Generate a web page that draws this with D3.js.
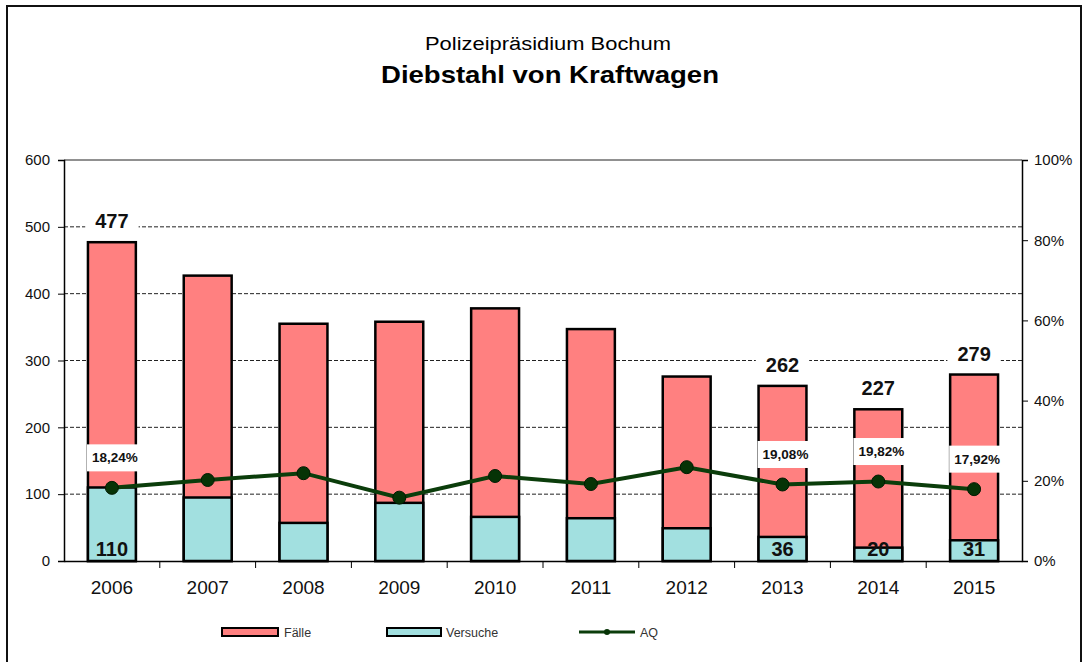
<!DOCTYPE html>
<html>
<head>
<meta charset="utf-8">
<script src="https://cdn.jsdelivr.net/npm/d3@7"></script>
<style>
  body { margin: 0; background: #fff; }
  svg { display: block; font-family: "Liberation Sans", Arial, sans-serif; }
</style>
</head>
<body>
<svg id="chart" width="1086" height="662"></svg>
<script>
// data
const years    = ["2006", "2007", "2008", "2009", "2010", "2011", "2012", "2013", "2014", "2015"];
const faelle   = [477, 427, 355, 358, 378, 347, 276, 262, 227, 279];
const versuche = [110, 95, 57, 87, 66, 64, 49, 36, 20, 31];
const aq       = [18.24, 20.2, 21.9, 15.8, 21.2, 19.2, 23.4, 19.08, 19.82, 17.92];
const labelled = ["2006", "2013", "2014", "2015"];
const leftTicks  = [0, 100, 200, 300, 400, 500, 600];
const rightTicks = [0, 20, 40, 60, 80, 100];

let svg = d3.select("#chart");
let margin = { left: 64, right: 1022, top: 160, bottom: 561 };

// outer frame
svg.append("rect")
    .attr("x", 7).attr("y", 6)
    .attr("width", 1074).attr("height", 670)
    .attr("fill", "none").attr("stroke", "#111").attr("stroke-width", 2);

// titles
svg.append("text")
    .attr("x", 548).attr("y", 50)
    .attr("text-anchor", "middle")
    .attr("font-size", 18)
    .attr("textLength", 246).attr("lengthAdjust", "spacingAndGlyphs")
    .text("Polizeipräsidium  Bochum");
svg.append("text")
    .attr("x", 550).attr("y", 83)
    .attr("text-anchor", "middle")
    .attr("font-size", 24).attr("font-weight", "bold")
    .attr("textLength", 338).attr("lengthAdjust", "spacingAndGlyphs")
    .text("Diebstahl von Kraftwagen");

let x = d3.scaleBand().domain(years).range([margin.left, margin.right]).paddingInner(0.5).paddingOuter(0.25);
let xStep = d3.scaleBand().domain(years).range([margin.left, margin.right]);
let y = d3.scaleLinear().domain([0, 600]).range([margin.bottom, margin.top]);
let y2 = d3.scaleLinear().domain([0, 100]).range([margin.bottom, margin.top]);

// grid
svg.append("g").selectAll("line")
    .data(leftTicks.filter(d => d > 0 && d < 600))
    .enter().append("line")
        .attr("x1", margin.left).attr("x2", margin.right)
        .attr("y1", d => y(d)).attr("y2", d => y(d))
        .attr("stroke", "#222").attr("stroke-width", 1)
        .attr("stroke-dasharray", "4,2");
svg.append("line")
    .attr("x1", margin.left).attr("x2", margin.right)
    .attr("y1", y(600)).attr("y2", y(600))
    .attr("stroke", "#222");

// bars: Fälle full height, Versuche overlaid from 0
svg.append("g").selectAll("rect")
    .data(years)
    .enter().append("rect")
        .attr("x", d => x(d))
        .attr("width", x.bandwidth())
        .attr("y", (d, i) => y(faelle[i]))
        .attr("height", (d, i) => y(0) - y(faelle[i]))
        .attr("fill", "#ff8080").attr("stroke", "#000").attr("stroke-width", 2.5);
svg.append("g").selectAll("rect")
    .data(years)
    .enter().append("rect")
        .attr("x", d => x(d))
        .attr("width", x.bandwidth())
        .attr("y", (d, i) => y(versuche[i]))
        .attr("height", (d, i) => y(0) - y(versuche[i]))
        .attr("fill", "#a2e0e0").attr("stroke", "#000").attr("stroke-width", 2.5);

// axes
let yAxis = d3.axisLeft(y).tickValues(leftTicks).tickSize(6).tickPadding(8);
let gy = svg.append("g").attr("transform", "translate(" + margin.left + ",0)").call(yAxis);
let y2Axis = d3.axisRight(y2).tickValues(rightTicks).tickSize(6).tickPadding(6).tickFormat(d => d + "%");
let gy2 = svg.append("g").attr("transform", "translate(" + margin.right + ",0)").call(y2Axis);
[gy, gy2].forEach(g => {
    g.select(".domain").attr("stroke", "#000").attr("stroke-width", 1.5);
    g.selectAll(".tick line").attr("stroke", "#000");
    g.selectAll(".tick text").attr("font-size", 15).attr("fill", "#111")
        .attr("font-family", "Liberation Sans, Arial, sans-serif");
});

let xAxis = d3.axisBottom(xStep).tickSize(0).tickPadding(20);
let gx = svg.append("g").attr("transform", "translate(0," + margin.bottom + ")").call(xAxis);
gx.select(".domain").attr("stroke", "#000").attr("stroke-width", 1.5);
gx.selectAll(".tick text").attr("font-size", 19).attr("fill", "#111")
    .attr("font-family", "Liberation Sans, Arial, sans-serif");
// category separator ticks
svg.append("g").selectAll("line")
    .data(years.slice(1))
    .enter().append("line")
        .attr("x1", d => xStep(d)).attr("x2", d => xStep(d))
        .attr("y1", margin.bottom).attr("y2", margin.bottom + 7)
        .attr("stroke", "#000");

// AQ line
let line = d3.line()
    .x((d, i) => x(years[i]) + x.bandwidth() / 2)
    .y(d => y2(d));
svg.append("path")
    .datum(aq)
    .attr("d", line)
    .attr("fill", "none").attr("stroke", "#0b3d0b").attr("stroke-width", 4);
svg.append("g").selectAll("circle")
    .data(aq)
    .enter().append("circle")
        .attr("cx", (d, i) => x(years[i]) + x.bandwidth() / 2)
        .attr("cy", d => y2(d))
        .attr("r", 6.5)
        .attr("fill", "#063306").attr("stroke", "#021a02").attr("stroke-width", 1);

// data labels
function boxLabel(txt, cx, cy, size, padX, padY) {
    let g = svg.append("g");
    let t = g.append("text")
        .attr("x", cx).attr("y", cy)
        .attr("text-anchor", "middle").attr("dominant-baseline", "central")
        .attr("font-size", size).attr("font-weight", "bold").attr("fill", "#111")
        .text(txt);
    let bb = t.node().getBBox();
    g.insert("rect", "text")
        .attr("x", bb.x - padX).attr("y", bb.y - padY)
        .attr("width", bb.width + 2 * padX).attr("height", bb.height + 2 * padY)
        .attr("fill", "#fff");
}

years.forEach((yr, i) => {
    if (labelled.indexOf(yr) < 0) return;
    let cx = x(yr) + x.bandwidth() / 2;
    boxLabel(faelle[i], cx, y(faelle[i]) - 21, 20, 10, 4);
    boxLabel(aq[i].toFixed(2).replace(".", ",") + "%", cx + 3, y2(aq[i]) - 30, 13.5, 5, 6);
    svg.append("text")
        .attr("x", cx).attr("y", margin.bottom - 12)
        .attr("text-anchor", "middle").attr("dominant-baseline", "central")
        .attr("font-size", 20).attr("font-weight", "bold").attr("fill", "#111")
        .text(versuche[i]);
});

// legend
let lg = svg.append("g").attr("font-size", 12.5).attr("fill", "#333");
lg.append("rect").attr("x", 222).attr("y", 628).attr("width", 56).attr("height", 8)
    .attr("fill", "#ff8080").attr("stroke", "#000").attr("stroke-width", 2);
lg.append("text").attr("x", 284).attr("y", 637).text("Fälle");
lg.append("rect").attr("x", 387).attr("y", 628).attr("width", 54).attr("height", 8)
    .attr("fill", "#a2e0e0").attr("stroke", "#000").attr("stroke-width", 2);
lg.append("text").attr("x", 446).attr("y", 637).text("Versuche");
lg.append("line").attr("x1", 579).attr("x2", 635).attr("y1", 632).attr("y2", 632)
    .attr("stroke", "#0b3d0b").attr("stroke-width", 3);
lg.append("circle").attr("cx", 607).attr("cy", 632).attr("r", 3).attr("fill", "#063306");
lg.append("text").attr("x", 640).attr("y", 637).text("AQ");
</script>
</body>
</html>
